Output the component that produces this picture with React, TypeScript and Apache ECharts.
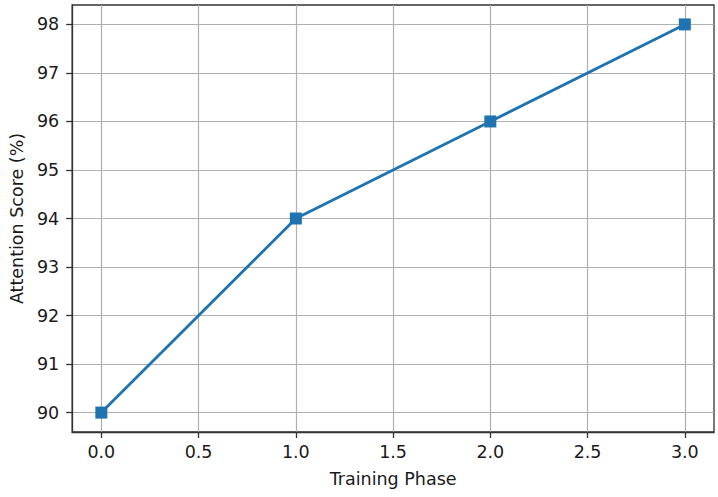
import React, { useEffect, useRef } from "react";
import * as echarts from "echarts";

const phases = [0, 1, 2, 3];
const scores = [90, 94, 96, 98];
const xTicks = [0, 0.5, 1, 1.5, 2, 2.5, 3];
const yTicks = [90, 91, 92, 93, 94, 95, 96, 97, 98];

export default function App() {
  const ref = useRef<HTMLDivElement>(null);
  useEffect(() => {
    document.body.style.margin = "0";
    const chart = echarts.init(ref.current!, undefined, { renderer: "svg" });
    const font = "DejaVu Sans";
    const textColor = "#1a1a1a";
    const axisCommon = {
      axisLine: { show: true, onZero: false, lineStyle: { color: "#333", width: 1.3 } },
      axisTick: { show: true, length: 6, inside: false, lineStyle: { color: "#333", width: 1.3 } },
      splitLine: { show: true, lineStyle: { color: "#b0b0b0", width: 1.2 } },
      nameLocation: "middle" as const,
      nameTextStyle: { fontFamily: font, fontSize: 17.5, color: textColor },
    };
    chart.setOption({
      animation: false,
      backgroundColor: "#fff",
      grid: {
        left: 71,
        top: 5,
        right: 4,
        bottom: 65,
        show: true,
        borderColor: "#333",
        borderWidth: 1.3,
      },
      xAxis: {
        ...axisCommon,
        type: "value",
        position: "bottom",
        min: -0.15,
        max: 3.15,
        splitNumber: 7,
        name: "Training Phase",
        nameGap: 38,
        axisTick: { ...axisCommon.axisTick, customValues: xTicks },
        axisLabel: {
          customValues: xTicks,
          margin: 11,
          fontFamily: font,
          fontSize: 17.5,
          color: textColor,
          formatter: (v: number) => v.toFixed(1),
        },
      },
      yAxis: {
        ...axisCommon,
        type: "value",
        position: "left",
        min: 89.6,
        max: 98.4,
        splitNumber: 8,
        name: "Attention Score (%)",
        nameGap: 45,
        axisTick: { ...axisCommon.axisTick, customValues: yTicks },
        axisLabel: {
          customValues: yTicks,
          margin: 13,
          fontFamily: font,
          fontSize: 17.5,
          color: textColor,
          formatter: (v: number) => String(Math.round(v)),
        },
      },
      series: [
        {
          type: "line",
          data: phases.map((p, i) => [p, scores[i]]),
          symbol: "rect",
          symbolSize: 12,
          showAllSymbol: true,
          lineStyle: { color: "#1f73b0", width: 2.8 },
          itemStyle: { color: "#1f73b0" },
        },
      ],
    });
    return () => chart.dispose();
  }, []);
  return (
    <div
      ref={ref}
      style={{ position: "absolute", left: 0, top: 0, width: 718, height: 497 }}
    />
  );
}
